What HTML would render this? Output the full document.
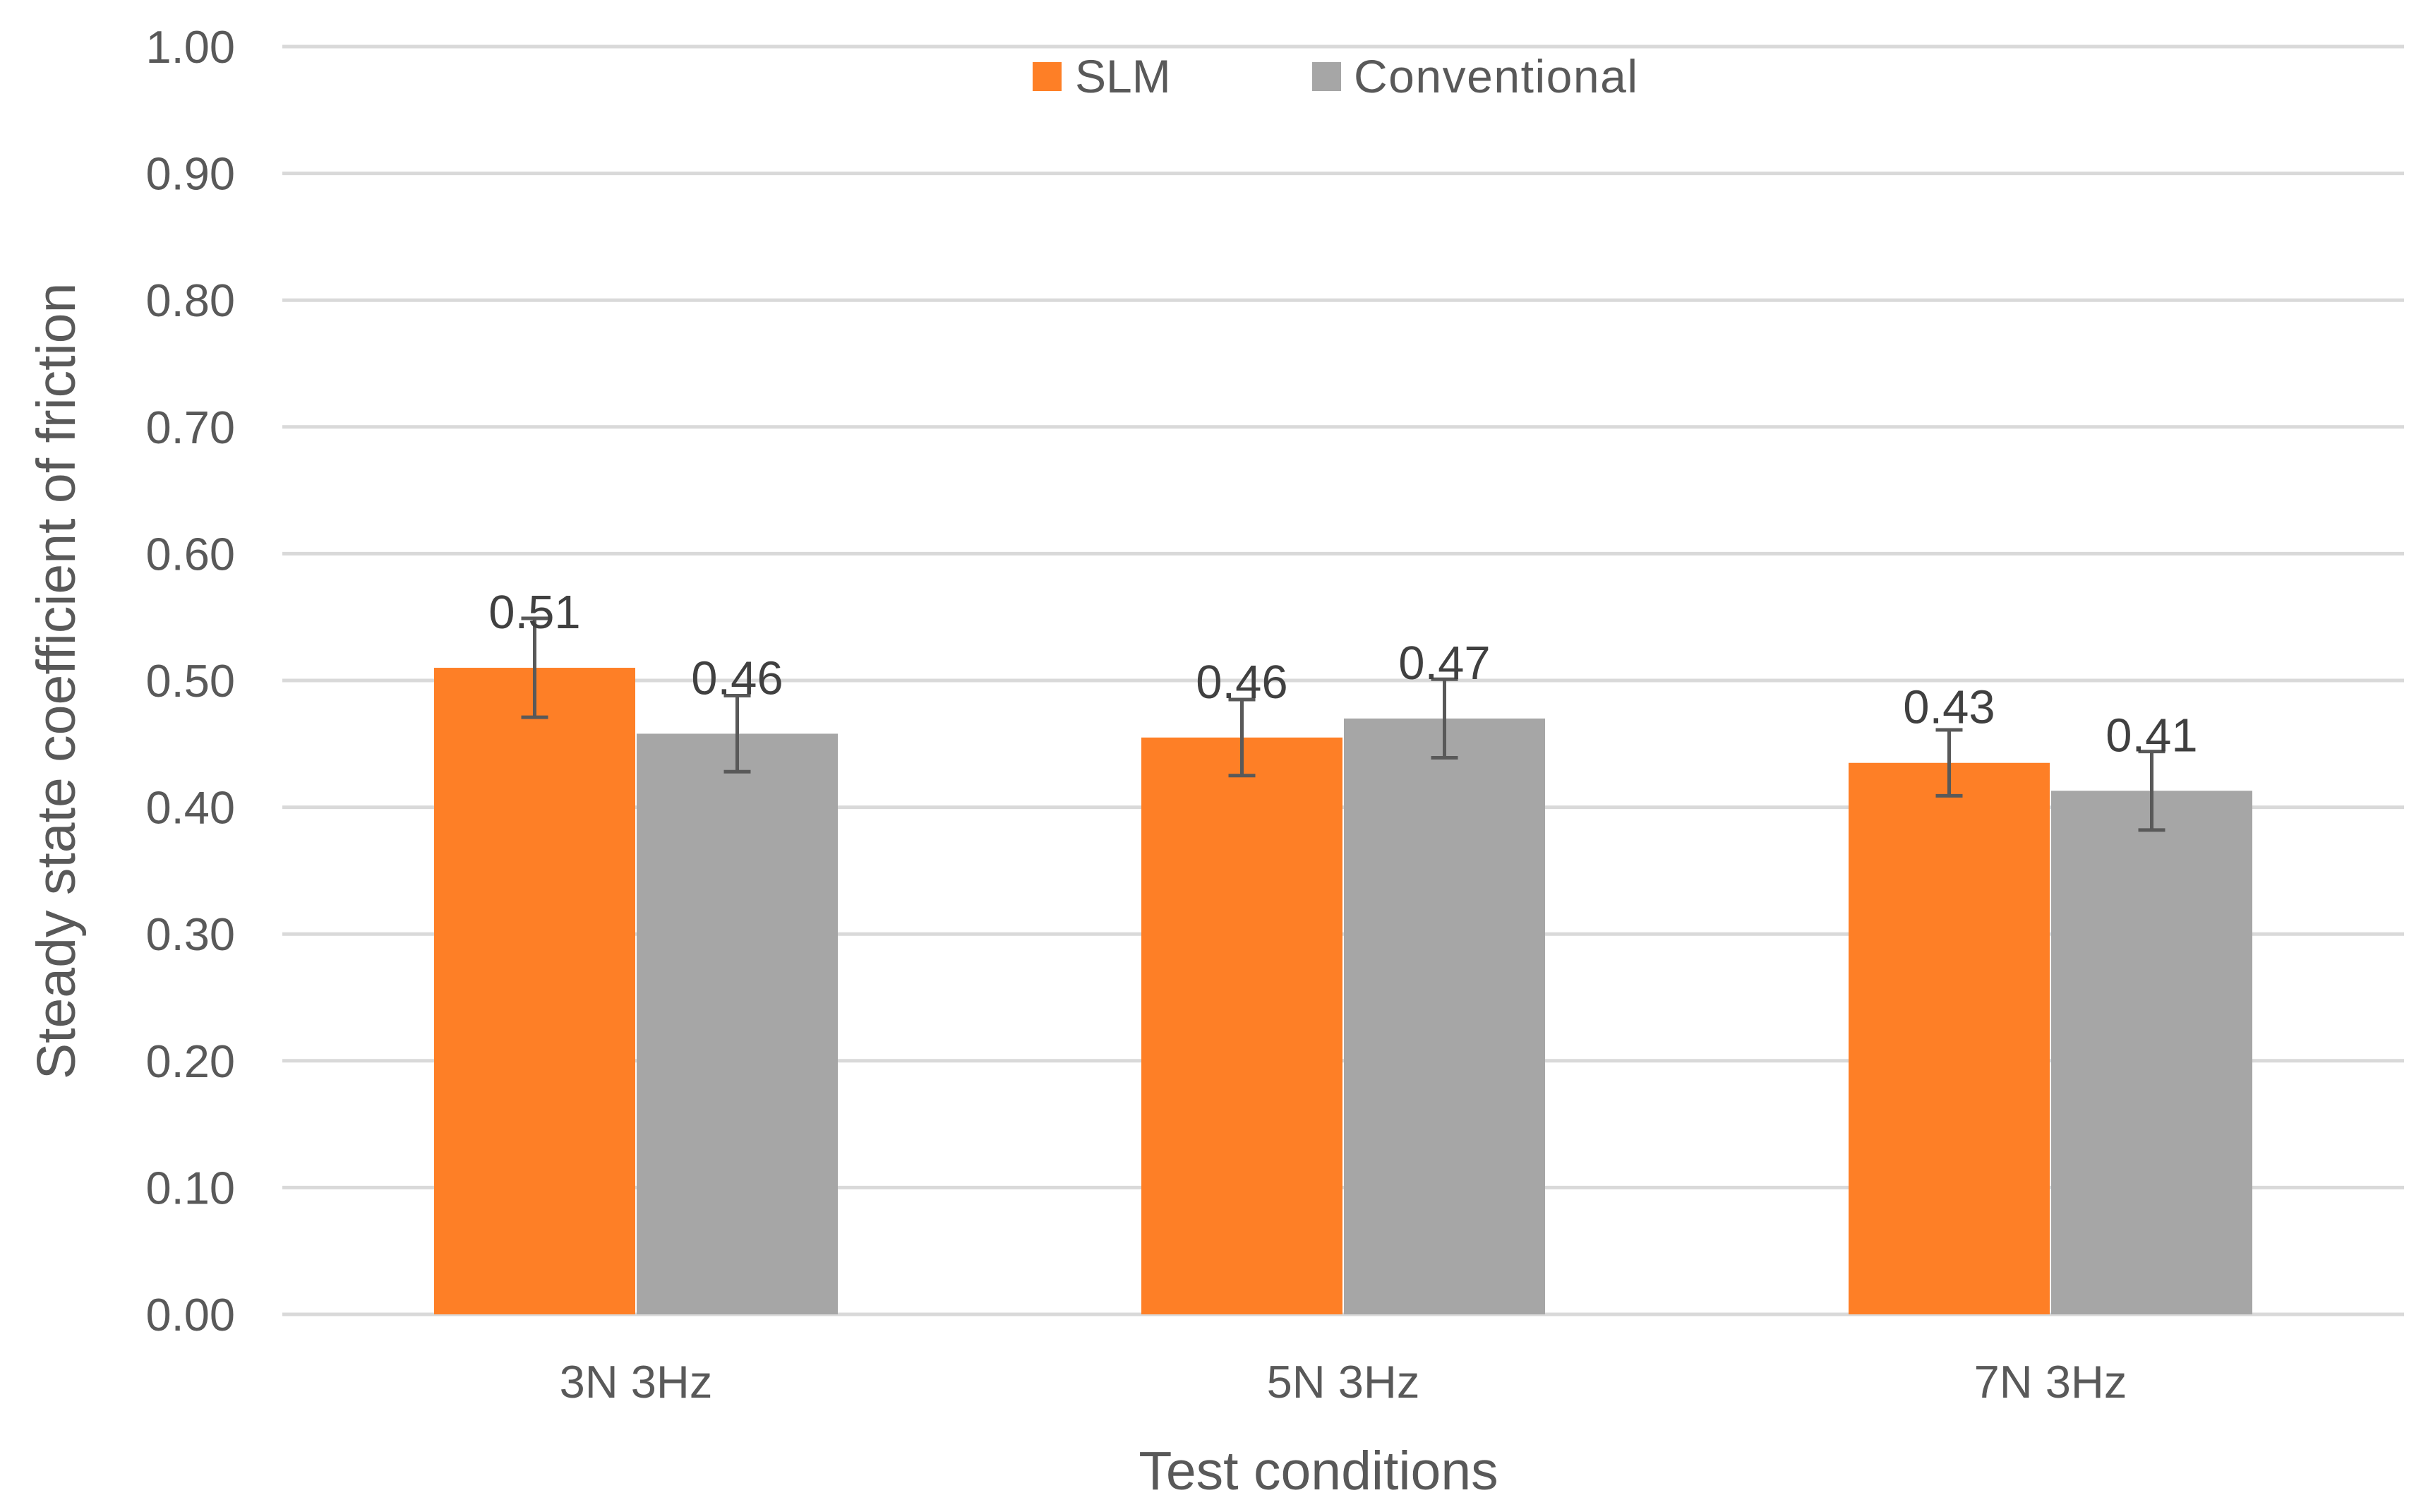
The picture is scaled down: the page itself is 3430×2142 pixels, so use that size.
<!DOCTYPE html>
<html><head><meta charset="utf-8"><style>
html,body{margin:0;padding:0;background:#fff;}
svg{display:block;font-family:"Liberation Sans",sans-serif;}
</style></head><body>
<svg id="chart" width="3430" height="2142" viewBox="0 0 3430 2142" xmlns="http://www.w3.org/2000/svg">
<g id="grid"></g>
<g id="yticks"></g>
<g id="bars"></g>
<g id="xlabels"></g>
<g>
<rect x="1463" y="88" width="41" height="41" fill="#fe7f26"/>
<text x="1523" y="131" font-size="66" fill="#595959">SLM</text>
<rect x="1859" y="88" width="41" height="41" fill="#a6a6a6"/>
<text x="1918" y="131" font-size="66" fill="#595959" textLength="402">Conventional</text>
</g>
<text x="1868" y="2110" font-size="77" fill="#595959" text-anchor="middle">Test conditions</text>
<text transform="translate(106,965) rotate(-90)" font-size="77" fill="#595959" text-anchor="middle">Steady state coefficient of friction</text>
</svg>
<script>
const categories = ["3N 3Hz","5N 3Hz","7N 3Hz"];
const slmValues = [0.51,0.455,0.435];
const convValues = [0.458,0.47,0.413];
const slmErrors = [0.039,0.03,0.026];
const convErrors = [0.03,0.031,0.031];
const slmLabels = ["0.51","0.46","0.43"];
const convLabels = ["0.46","0.47","0.41"];
const yTicks = [0,0.1,0.2,0.3,0.4,0.5,0.6,0.7,0.8,0.9,1.0];

const NS="http://www.w3.org/2000/svg";
const L=400,R=3406,T=66,B=1862;
const y=v=>B-(v/1.0)*(B-T);
const catW=(R-L)/categories.length;
const cx=i=>L+catW*(i+0.5);
const bw=285;
function mk(tag,attrs,parent){const e=document.createElementNS(NS,tag);for(const k in attrs)e.setAttribute(k,attrs[k]);parent.appendChild(e);return e;}
const grid=document.getElementById('grid'),yt=document.getElementById('yticks'),bars=document.getElementById('bars'),xl=document.getElementById('xlabels');
yTicks.forEach(t=>{
  const ln=mk('line',{x1:L,x2:R,y1:y(t),y2:y(t),stroke:'#d9d9d9','stroke-width':5},grid);
  
  
  const tx=mk('text',{x:333,y:y(t)+23,'font-size':65,fill:'#595959','text-anchor':'end'},yt);
  tx.textContent=t.toFixed(2);
  
  
});
function series(vals,errs,labels,color,offset,name){
  vals.forEach((v,i)=>{
    const x0=cx(i)+offset;
    const r=mk('rect',{x:x0,y:y(v),width:bw,height:B-y(v),fill:color},bars);
    
    
    const mx=x0+bw/2;
    const g=mk('g',{stroke:'#595959','stroke-width':5},bars);
    
    
    mk('line',{x1:mx,x2:mx,y1:y(v+errs[i]),y2:y(v-errs[i])},g);
    mk('line',{x1:mx-19,x2:mx+19,y1:y(v+errs[i]),y2:y(v+errs[i])},g);
    mk('line',{x1:mx-19,x2:mx+19,y1:y(v-errs[i]),y2:y(v-errs[i])},g);
    const t=mk('text',{x:mx,y:y(v)-56,'font-size':67,fill:'#404040','text-anchor':'middle'},bars);
    t.textContent=labels[i];
    
    
  });
}
series(slmValues,slmErrors,slmLabels,'#fe7f26',-bw-1,'slm');
series(convValues,convErrors,convLabels,'#a6a6a6',1,'conventional');
categories.forEach((c,i)=>{
  const t=mk('text',{x:cx(i),y:1980,'font-size':65,fill:'#595959','text-anchor':'middle'},xl);
  t.textContent=c;
  
  
});
</script>
</body></html>
